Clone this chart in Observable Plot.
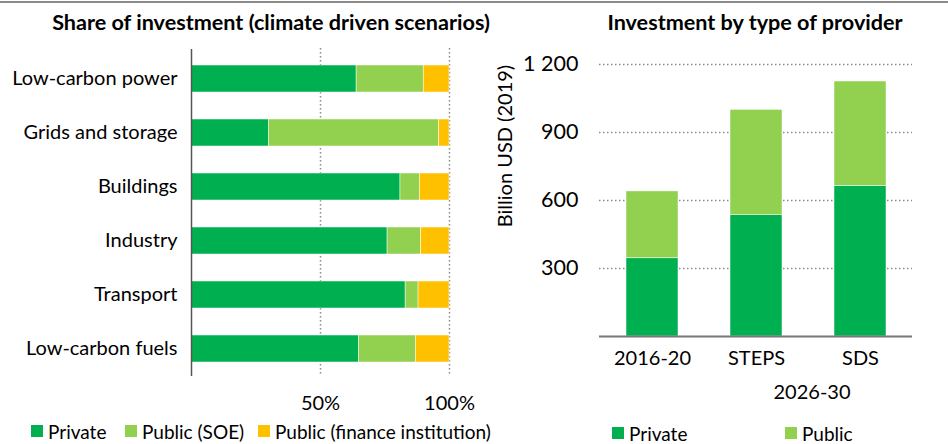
<!DOCTYPE html>
<html><head><meta charset="utf-8">
<script src="https://cdn.jsdelivr.net/npm/d3@7"></script>
<script src="https://cdn.jsdelivr.net/npm/@observablehq/plot@0.6"></script>
<style>
body{margin:0;background:#fff;font-family:Lato,sans-serif;color:#000}
#wrap{position:relative;width:948px;height:444px;overflow:hidden;background:#fff}
.abs{position:absolute;white-space:nowrap;line-height:1}
.title{font-weight:bold;font-size:21.6px;transform:translate(-50%,-50%)}
.lab{font-size:19px}
.sw{position:absolute;width:12px;height:12px}
svg{position:absolute;top:0;overflow:visible}
</style></head>
<body>
<div id="wrap">
  <div class="abs" style="left:0;top:1px;width:948px;height:2px;background:#8a8a8a"></div>
  <div class="abs title" style="left:271px;top:23px">Share of investment (climate driven scenarios)</div>
  <div class="abs title" style="left:755px;top:23px">Investment by type of provider</div>
  <div class="abs lab" style="left:504px;top:146px;font-size:20px;transform:translate(-50%,-50%) rotate(-90deg)">Billion USD (2019)</div>
  <div class="abs lab" style="left:812px;top:391px;font-size:20px;transform:translate(-50%,-50%)">2026-30</div>
</div>
<script>
// ---- Data ----
const categories = ["Low-carbon power","Grids and storage","Buildings","Industry","Transport","Low-carbon fuels"];
const providers = ["Private","Public (SOE)","Public (finance institution)"];
const sharePrivate = [64, 30, 81, 76, 83, 65];
const shareSOE     = [26, 66, 7.5, 13, 5, 22];
const shareFinance = [10, 4, 11.5, 11, 12, 13];

const periods = ["2016-20","STEPS","SDS"];
const providers2 = ["Private","Public"];
const invPrivate = [345, 535, 665];
const invPublic  = [295, 465, 460];
const yTicks = [300, 600, 900, 1200];
const xTicks = [50, 100];

const colors = ["#00B050","#92D050","#FFC000"];

const shareRows = [];
categories.forEach((c,i)=>{
  [sharePrivate, shareSOE, shareFinance].forEach((arr,j)=>shareRows.push({category:c, provider:providers[j], value:arr[i]}));
});
const invRows = [];
periods.forEach((p,i)=>{
  [invPrivate, invPublic].forEach((arr,j)=>invRows.push({period:p, provider:providers2[j], value:arr[i]}));
});

const wrap = document.getElementById("wrap");

const left = Plot.plot({
  width: 480, height: 420,
  marginLeft: 191, marginRight: 31, marginTop: 51, marginBottom: 44,
  style: {fontSize: "20px", fontFamily: "Lato, sans-serif", color: "#000", background: "transparent"},
  x: {domain: [0, 100], label: null},
  y: {domain: categories, paddingInner: 0.5, paddingOuter: 0.25, label: null},
  color: {domain: providers, range: colors},
  marks: [
    Plot.ruleX(xTicks, {stroke: "#8a8a8a", strokeWidth: 1.5, strokeDasharray: "1.5,2.5", insetTop: -3}),
    Plot.barX(shareRows, Plot.stackX({y: "category", x: "value", fill: "provider", z: "provider", stroke: "#fff", strokeWidth: 0.5})),
    Plot.ruleX([0], {stroke: "#555", strokeWidth: 1.5, insetTop: -2}),
    Plot.axisX({ticks: xTicks, tickFormat: d => d + "%", tickSize: 0, tickPadding: 19}),
    Plot.axisY({tickSize: 0, tickPadding: 14})
  ]
});
left.style.left = "0px";
wrap.appendChild(left);

const fmt = d => d3.format(",")(d).replace(/,/g, " ");
const right = Plot.plot({
  width: 468, height: 420,
  marginLeft: 119, marginRight: 36, marginTop: 64, marginBottom: 84,
  style: {fontSize: "20px", fontFamily: "Lato, sans-serif", color: "#000", background: "transparent"},
  x: {domain: periods, paddingInner: 0.5, paddingOuter: 0.25, label: null},
  y: {domain: [0, 1200], label: null},
  color: {domain: providers2, range: colors.slice(0,2)},
  marks: [
    Plot.ruleY(yTicks, {stroke: "#8a8a8a", strokeWidth: 1.5, strokeDasharray: "1.5,2.5"}),
    Plot.barY(invRows, Plot.stackY({x: "period", y: "value", fill: "provider", z: "provider", stroke: "#fff", strokeWidth: 0.5})),
    Plot.ruleY([0], {stroke: "#777", strokeWidth: 2}),
    Plot.axisY({ticks: yTicks, tickFormat: fmt, tickSize: 0, tickPadding: 21, fontSize: 21.5}),
    Plot.axisX({tickSize: 0, tickPadding: 14})
  ]
});
right.style.left = "480px";
wrap.appendChild(right);

function legend(items, positions){
  items.forEach((it, i) => {
    const [x, y] = positions[i];
    const sw = document.createElement("div");
    sw.className = "sw";
    sw.style.left = x + "px"; sw.style.top = (y - 6) + "px"; sw.style.background = it.color;
    wrap.appendChild(sw);
    const t = document.createElement("div");
    t.className = "abs lab";
    t.style.left = (x + 17) + "px"; t.style.top = y + "px"; t.style.transform = "translateY(-50%)";
    t.textContent = it.name;
    wrap.appendChild(t);
  });
}
legend(providers.map((p,i)=>({name:p,color:colors[i]})), [[31,431],[125,431],[258,431]]);
legend(providers2.map((p,i)=>({name:p,color:colors[i]})), [[612,433],[785,433]]);
</script>
</body></html>
